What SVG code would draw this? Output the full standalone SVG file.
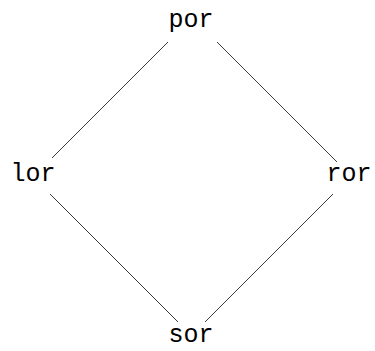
<svg xmlns="http://www.w3.org/2000/svg" width="375" height="351" viewBox="0 0 375 351">
<style>
text{font-family:"Liberation Mono","DejaVu Sans Mono",monospace;font-size:25px;fill:#000;text-anchor:middle}
line{stroke:#222;stroke-width:0.9}
</style>
<rect width="375" height="351" fill="#fff"/>
<g id="connectors">
<line x1="168" y1="42" x2="52" y2="158"/>
<line x1="217" y1="42" x2="337" y2="162"/>
<line x1="50" y1="194" x2="178" y2="322"/>
<line x1="333" y1="194" x2="205" y2="322"/>
</g>
<g id="por"><text x="191" y="27">por</text></g>
<g id="lor"><text x="33" y="181">lor</text></g>
<g id="ror"><text x="349" y="181">ror</text></g>
<g id="sor"><text x="191" y="342">sor</text></g>
</svg>
